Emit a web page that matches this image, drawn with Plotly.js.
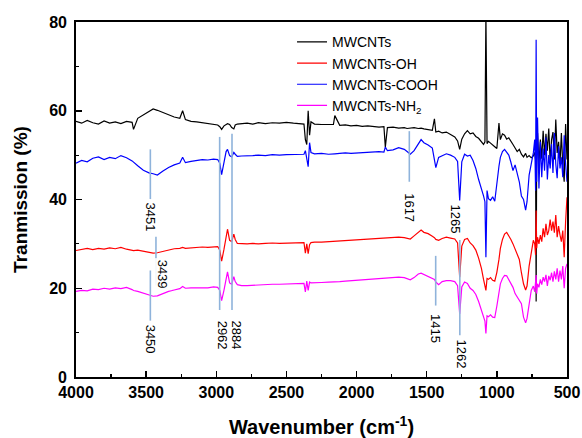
<!DOCTYPE html>
<html>
<head>
<meta charset="utf-8">
<script src="https://cdn.plot.ly/plotly-3.0.1.min.js"></script>
<style>html,body{margin:0;padding:0;background:#fff;}#chart{width:582px;height:438px;}</style>
</head>
<body>
<div id="chart"></div>
<script>
// Wavenumber grid (cm-1)
const wavenumber = [
 4000,3960,3920,3880,3840,3800,3760,3720,3680,3640,
 3600,3590,3560,3520,3480,3450,3420,3380,3340,3300,
 3260,3240,3220,3180,3140,3100,3060,3020,2990,2975,
 2962,2945,2930,2920,2905,2890,2875,2865,2850,2820,
 2780,2740,2700,2650,2600,2550,2500,2450,2400,2375,
 2365,2355,2345,2335,2325,2300,2250,2200,2165,2155,
 2120,2080,2040,2000,1960,1920,1880,1840,1805,1795,
 1780,1740,1700,1660,1640,1617,1590,1560,1540,1520,
 1490,1460,1445,1435,1415,1390,1360,1330,1300,1280,
 1265,1250,1230,1210,1190,1170,1150,1130,1110,1095,
 1085,1078,1070,1060,1045,1030,1015,1000,985,975,
 960,945,930,915,900,885,870,855,840,825,
 810,795,785,770,755,740,730,724,720,716,
 710,700,690,680,670,660,650,640,630,620,
 610,600,590,580,570,560,550,540,530,520,510,500
];
const mwcnts = [
 57.6,57.2,57.8,57.3,57.0,57.7,57.2,57.5,57.1,57.6,
 57.4,55.8,58.3,59.0,59.8,60.4,60.1,59.6,59.2,58.6,
 58.3,60.0,58.0,57.6,57.5,57.3,57.1,57.0,56.8,56.4,
 55.8,56.6,57.0,57.1,56.9,56.2,55.9,56.8,57.0,57.1,
 57.2,57.0,57.3,57.1,57.3,57.2,57.4,57.2,57.1,57.0,
 53.5,52.4,60.0,54.5,57.5,57.0,56.9,56.8,56.9,58.9,
 56.7,56.8,56.6,56.7,56.5,56.6,56.4,56.3,56.4,51.8,
 56.2,56.3,56.1,56.2,56.0,56.1,56.2,56.0,56.1,55.9,
 55.8,55.6,58.2,55.2,55.4,55.0,55.2,54.6,54.1,53.2,
 51.3,53.6,54.8,55.5,54.8,55.0,54.2,53.8,53.0,52.4,
 53.0,82.0,52.6,53.1,52.7,52.2,51.9,51.5,57.2,53.5,
 54.8,54.5,53.6,53.9,53.0,52.4,51.6,50.8,51.3,50.2,
 49.6,50.4,49.5,49.9,49.4,49.8,50.6,49.0,17.0,53.0,
 55.0,48.0,53.5,49.2,55.5,50.0,54.8,51.0,56.0,48.5,
 53.5,55.2,49.0,58.0,50.5,53.0,48.0,55.0,47.5,44.0,57.0,49.0
];
const mwcntsOH = [
 28.5,28.7,29.0,28.7,29.0,28.8,29.1,28.9,29.2,28.8,
 28.6,28.5,28.6,28.3,28.1,27.9,28.0,28.3,28.6,28.9,
 29.0,29.2,29.0,29.1,29.2,29.3,29.2,29.4,29.4,28.6,
 26.1,28.8,31.5,33.3,30.8,30.5,32.2,31.0,30.1,30.0,
 30.0,30.1,30.0,30.1,30.2,30.1,30.2,30.2,30.3,30.3,
 27.9,30.0,27.8,29.8,30.3,30.4,30.4,30.5,30.5,30.6,
 30.6,30.7,30.7,30.8,30.9,31.0,31.1,31.2,31.3,31.3,
 31.3,31.4,31.5,31.4,31.3,31.1,31.8,32.7,33.1,32.6,
 32.3,31.7,31.4,31.0,30.8,31.2,31.5,31.3,31.1,30.2,
 22.5,29.5,31.0,31.2,30.2,29.6,28.6,26.8,24.5,22.0,
 20.2,19.5,22.2,22.0,22.4,21.8,21.6,23.6,26.5,29.0,
 31.0,32.2,32.6,31.9,31.0,30.0,28.8,27.6,26.5,23.5,
 21.0,19.6,20.5,25.0,28.5,30.8,30.0,27.5,37.5,29.0,
 31.5,30.0,32.0,30.5,33.5,31.5,34.5,32.0,33.0,35.5,
 33.0,35.0,32.5,36.5,31.5,34.0,32.0,30.5,33.0,27.0,35.0,40.5
];
const mwcntsCOOH = [
 48.2,48.8,48.5,49.3,49.6,49.0,49.5,49.2,49.9,49.4,
 48.7,48.4,47.6,46.6,46.0,45.8,45.5,46.4,47.2,47.8,
 48.2,49.5,48.3,48.6,48.8,49.0,48.9,49.1,49.0,48.2,
 45.6,48.5,50.8,51.3,49.9,49.6,50.6,50.2,49.7,49.8,
 49.8,49.9,50.0,49.9,50.1,50.0,50.1,50.2,50.3,50.2,
 51.0,49.4,47.4,52.8,50.6,50.3,50.4,50.2,50.4,50.3,
 50.4,50.5,50.4,50.5,50.6,50.6,50.7,50.8,50.7,51.8,
 51.0,51.2,51.7,51.3,50.8,50.2,51.0,52.6,53.5,52.8,
 52.3,51.6,48.5,47.2,49.5,49.9,50.3,50.0,49.5,48.6,
 39.8,48.5,50.2,49.8,50.0,48.8,47.0,44.5,42.6,40.8,
 39.5,27.0,42.0,40.2,39.8,40.6,39.6,44.0,47.5,49.5,
 50.8,51.3,50.6,50.0,48.4,46.5,47.8,45.5,44.0,40.8,
 40.0,37.6,39.5,45.5,48.2,50.5,53.5,42.0,76.0,44.0,
 58.5,42.5,53.0,45.0,51.5,46.5,54.0,44.5,50.0,47.0,
 52.5,46.0,55.0,48.0,44.8,52.0,47.0,49.5,45.0,54.5,48.0,44.0
];
const mwcntsNH2 = [
 19.3,19.5,19.4,19.8,19.7,20.0,19.8,20.1,19.9,20.2,
 19.7,19.5,19.3,18.9,18.5,18.2,18.3,18.8,19.3,19.6,
 19.9,20.4,20.0,20.1,20.1,20.2,20.1,20.3,20.2,19.5,
 17.2,19.6,22.2,23.7,21.2,20.9,22.6,21.5,20.8,20.6,
 20.6,20.7,20.8,20.8,20.9,20.9,21.0,21.0,21.1,21.1,
 19.2,21.6,19.5,21.4,21.2,21.2,21.3,21.4,21.4,21.5,
 21.5,21.6,21.7,21.7,21.8,21.9,22.0,22.1,22.2,22.2,
 22.3,22.4,22.5,22.4,22.2,21.9,22.4,23.2,23.4,23.1,
 22.8,22.3,22.0,21.4,20.8,21.5,21.7,21.7,21.5,20.6,
 14.2,20.3,21.4,21.1,20.0,19.5,18.6,17.0,14.8,13.6,
 12.6,9.8,13.8,13.6,14.0,13.5,13.4,16.0,18.8,21.0,
 22.2,22.9,22.8,22.0,21.2,20.2,18.8,18.0,17.4,16.5,
 13.5,12.2,13.2,16.5,19.5,20.5,19.2,21.5,23.0,18.8,
 21.0,20.2,22.0,20.8,22.5,21.5,23.0,20.5,22.8,21.8,
 23.5,21.5,23.8,22.0,24.5,21.5,24.0,22.0,25.0,20.0,24.5,25.5
];
const seriesNames = ['MWCNTs','MWCNTs-OH','MWCNTs-COOH','MWCNTs-NH<sub>2</sub>'];
const seriesColors = ['#000000','#ff0000','#0000ff','#ff00ff'];
const seriesValues = [mwcnts, mwcntsOH, mwcntsCOOH, mwcntsNH2];

// Peak marker lines: wavenumber, y from, y to
const markLineX = [3470, 3430, 3470, 2976, 2888, 1624, 1436, 1264];
const markLineY0 = [40.1, 20.6, 12.7, 15.1, 15.1, 44.0, 16.1, 9.4];
const markLineY1 = [51.3, 31.6, 24.0, 54.1, 54.8, 55.4, 27.3, 30.9];
// Peak labels
const peakLabels = ['3451','3439','3450','2962','2884','1617','1265','1415','1262'];
const peakLabelX = [3468, 3377, 3468, 2958, 2857, 1624, 1288, 1436, 1253];
const peakLabelY = [36.0, 23.2, 8.5, 9.5, 9.5, 38.2, 35.6, 10.9, 5.2];

const FONT = 'Arial, Liberation Sans, sans-serif';

const traces = seriesValues.map((v, i) => ({
  x: wavenumber, y: v, type: 'scatter', mode: 'lines',
  name: seriesNames[i], line: {color: seriesColors[i], width: 1.2}
}));

const shapes = markLineX.map((x, i) => ({
  type: 'line', xref: 'x', yref: 'y', x0: x, x1: x,
  y0: markLineY0[i], y1: markLineY1[i],
  line: {color: '#8fb3db', width: 1.6}
}));

const annotations = peakLabels.map((t, i) => ({
  x: peakLabelX[i], y: peakLabelY[i], xref: 'x', yref: 'y',
  text: t, showarrow: false, textangle: 90,
  bgcolor: 'rgba(255,255,255,0.9)',
  font: {family: FONT, size: 13, color: '#000'}
}));

const tickFont = {family: FONT, size: 16, color: '#000', weight: 'bold'};
const layout = {
  width: 582, height: 438,
  margin: {l: 76, r: 15, t: 22, b: 61},
  paper_bgcolor: '#fff', plot_bgcolor: '#fff',
  showlegend: true,
  legend: {x: 0.44, y: 0.988, xanchor: 'left', yanchor: 'top',
    bgcolor: 'rgba(0,0,0,0)', tracegroupgap: 0,
    font: {family: FONT, size: 14, color: '#000'}},
  xaxis: {
    range: [4000, 500], showgrid: false, zeroline: false,
    showline: true, linecolor: '#000', linewidth: 1.8, mirror: true,
    ticks: 'inside', ticklen: 6, tickwidth: 1.5, tickcolor: '#000',
    dtick: 500, tick0: 500,
    minor: {dtick: 250, ticks: 'inside', ticklen: 3, tickwidth: 1.2, tickcolor: '#000'},
    tickfont: tickFont,
    title: {text: 'Wavenumber (cm<sup>-1</sup>)', standoff: 20,
      font: {family: FONT, size: 20, color: '#000', weight: 'bold'}}
  },
  yaxis: {
    range: [0, 80], showgrid: false, zeroline: false,
    showline: true, linecolor: '#000', linewidth: 1.8, mirror: true,
    ticks: 'inside', ticklen: 6, tickwidth: 1.5, tickcolor: '#000',
    dtick: 20, tick0: 0, ticklabelstandoff: 4,
    minor: {dtick: 10, ticks: 'inside', ticklen: 3, tickwidth: 1.2, tickcolor: '#000'},
    tickfont: tickFont,
    title: {text: 'Tranmission (%)', standoff: 16,
      font: {family: FONT, size: 19, color: '#000', weight: 'bold'}}
  },
  shapes: shapes,
  annotations: annotations
};
Plotly.newPlot('chart', traces, layout, {displayModeBar: false, staticPlot: true});
</script>
</body>
</html>
